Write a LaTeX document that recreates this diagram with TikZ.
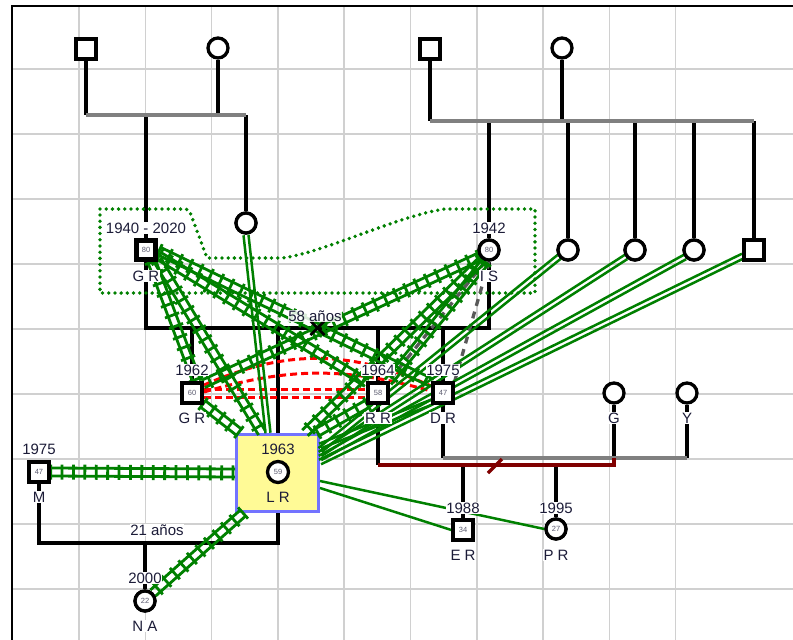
\documentclass[tikz,border=0pt]{standalone}
\usepackage{fontspec}
\setmainfont{Liberation Sans}
\usetikzlibrary{calc,decorations.markings}

\definecolor{gline}{RGB}{0,128,0}
\definecolor{gridc}{RGB}{208,208,208}
\definecolor{famgray}{RGB}{128,128,128}
\definecolor{txt}{RGB}{28,28,56}
\definecolor{agec}{RGB}{90,90,110}
\definecolor{boxfill}{RGB}{255,250,150}
\definecolor{boxedge}{RGB}{115,115,255}
\definecolor{sepred}{RGB}{128,0,0}

\newcommand\lblfont{\fontsize{15}{17}\selectfont}
\newcommand\agefont{\fontsize{7.5}{8}\selectfont}

% hostile/close bond: two rails with cross ties
\newcommand\hatchlink[2]{%
  \draw[rail] ($(#1)!4pt!90:(#2)$) -- ($(#2)!4pt!-90:(#1)$);
  \draw[rail] ($(#1)!4pt!-90:(#2)$) -- ($(#2)!4pt!90:(#1)$);
  \path[railticks] (#1) -- (#2);}
% close bond: two parallel lines
\newcommand\duallink[2]{%
  \draw[twin] ($(#1)!2.5pt!90:(#2)$) -- ($(#2)!2.5pt!-90:(#1)$);
  \draw[twin] ($(#1)!2.5pt!-90:(#2)$) -- ($(#2)!2.5pt!90:(#1)$);}

\tikzset{
  kin/.style={draw=black, line width=3.3pt},
  famline/.style={draw=famgray, line width=3.3pt},
  sepline/.style={draw=sepred, line width=3.3pt},
  rail/.style={draw=gline, line width=2.8pt},
  railticks/.style={postaction={decorate, decoration={markings,
      mark=between positions 0 and 1 step 11.4pt with
      {\draw[gline, line width=2.8pt] (0pt,-7.5pt) -- (0pt,7.5pt);}}}},
  twin/.style={draw=gline, line width=2.5pt},
  solo/.style={draw=gline, line width=2.5pt},
  conflict/.style={draw=red, line width=3pt, dash pattern=on 7pt off 4pt},
  distant/.style={draw=black!65, line width=3.3pt, dash pattern=on 7pt off 6pt},
  grouping/.style={draw=gline, line width=3.8pt, line cap=round, dash pattern=on 0pt off 6.2pt},
  gridline/.style={draw=gridc, line width=1.5pt},
  male/.style={rectangle, draw=black, line width=3.3pt, fill=white, minimum size=20pt, inner sep=0pt, font=\agefont, text=agec},
  female/.style={circle, draw=black, line width=3.3pt, fill=white, minimum size=20pt, inner sep=0pt, font=\agefont, text=agec},
  lbl/.style={fill=white, inner sep=0.8pt, text=txt, font=\lblfont},
}

\begin{document}
\begin{tikzpicture}[x=1pt,y=-1pt]
\useasboundingbox (0,0) rectangle (793,640);
\fill[white] (0,0) rectangle (793,640);

% grid
\foreach \i in {1,...,10} \draw[gridline] ({12.7+66.3*\i},6) -- ({12.7+66.3*\i},640);
\foreach \j in {1,...,9} \draw[gridline] (12,{4+65*\j}) -- (793,{4+65*\j});
\draw[black, line width=2.4pt] (12,640) -- (12,6) -- (793,6);

% people (placed first so connectors can refer to them)
\node[male]   (gpa1) at (86,49) {};
\node[female] (gma1) at (218,48) {};
\node[male]   (gpa2) at (430,49) {};
\node[female] (gma2) at (562,48) {};
\node[male, line width=4.8pt, minimum size=19pt] (gra) at (146,250) {80};
\node[female] (hna) at (246,223) {};
\node[female] (isn) at (489,250) {80};
\node[female] (s1) at (568,250) {};
\node[female] (s2) at (635,250) {};
\node[female] (s3) at (694,250) {};
\node[male]   (s4) at (754,250) {};
\node[male]   (gr62) at (192,393) {60};
\node[draw=boxedge, fill=boxfill, line width=3pt, minimum width=82pt, minimum height=77pt, inner sep=0pt] (lrbox) at (277.5,473) {};
\node[male]   (rr) at (378,393) {58};
\node[male]   (dr) at (443,393) {47};
\node[female] (gg) at (614,393) {};
\node[female] (yy) at (687,393) {};
\node[male]   (mm) at (39,472) {47};
\node[female] (na) at (145,601) {22};
\node[male]   (er) at (463,530) {34};
\node[female] (pr) at (556,529) {27};

% family lines
\coordinate (f1l) at (86,115);  \coordinate (f1r) at (246,115);
\coordinate (f2l) at (430,121); \coordinate (f2r) at (754,121);
\coordinate (m1l) at (146,328); \coordinate (m1r) at (489,328);
\coordinate (m2l) at (39,543);  \coordinate (m2r) at (278,543);
\coordinate (m3l) at (443,458); \coordinate (m3r) at (687,458);
\coordinate (m4l) at (378,465); \coordinate (m4r) at (614,465);

\draw[kin] (gpa1) -- (gpa1 |- f1l);
\draw[kin] (gma1) -- (gma1 |- f1l);
\draw[kin] (gra |- f1l) -- (gra);
\draw[kin] (hna |- f1l) -- (hna);
\draw[famline] (f1l) -- (f1r);

\draw[kin] (gpa2) -- (gpa2 |- f2l);
\draw[kin] (gma2) -- (gma2 |- f2l);
\foreach \c in {isn,s1,s2,s3,s4} \draw[kin] (\c |- f2l) -- (\c);
\draw[famline] (f2l) -- (f2r);

\draw[kin] (gra) -- (m1l) -- (m1r) -- (isn);
\draw[kin] (gr62 |- m1l) -- (gr62);
\draw[kin] (m2r |- m1l) -- (m2r |- lrbox.north);
\draw[kin] (rr |- m1l) -- (rr);
\draw[kin] (dr |- m1l) -- (dr);

\draw[kin] (mm) -- (m2l) -- (m2r) -- (m2r |- lrbox.south);
\draw[kin] (na |- m2l) -- (na);

\draw[kin] (dr) -- (m3l);
\draw[kin] (gg) -- (gg |- m3l);
\draw[kin] (yy) -- (yy |- m3l);
\draw[famline] (m3l) -- (m3r);

\draw[kin] (rr) -- (m4l);
\draw[kin] (er |- m4l) -- (er);
\draw[kin] (pr |- m4l) -- (pr);
\draw[sepline] (m4l) -- (m4r) -- (m4r |- m3l);
\draw[sepline] (488,473) -- (502,459);

% grouping outline
\draw[grouping] (100,209) -- (186,209) -- (190,212) -- (207,258) -- (282,258)
  .. controls (320,254) and (400,215) .. (445,209) -- (535,209) -- (535,293) -- (100,293) -- cycle;

% connector ends
\coordinate (gaA) at (152,262); \coordinate (gaB) at (158,261);
\coordinate (gaC) at (159,256); \coordinate (gaD) at (159,251);
\coordinate (isA) at (479,257); \coordinate (isB) at (481,261); \coordinate (isC) at (485,262);
\coordinate (g62t) at (197,382); \coordinate (g62u) at (203,384); \coordinate (g62b) at (203,404);
\coordinate (rrtl) at (367,383); \coordinate (rrtr) at (388,382); \coordinate (rrbl) at (367,404);
\coordinate (drtl) at (432,383); \coordinate (drbl) at (432,402);
\coordinate (lrA) at (262,433); \coordinate (lrB) at (240,433); \coordinate (lrC) at (305,433);
\coordinate (lrD) at (316,433); \coordinate (lrE) at (268,433); \coordinate (lrF) at (243,513);
\coordinate (lrR1) at (320,450); \coordinate (lrR2) at (320,454);
\coordinate (lrR3) at (320,458); \coordinate (lrR4) at (320,462);
\coordinate (lrR0) at (320,446); \coordinate (lrP) at (320,481); \coordinate (lrQ) at (320,488);
\coordinate (hnab) at (246,235); \coordinate (nat) at (153,593);
\coordinate (s1e) at (559,257); \coordinate (s2e) at (626,257);
\coordinate (s3e) at (685,257); \coordinate (s4e) at (743,256);

% conflict
\draw[conflict] (204,389) -- (366,389);
\draw[conflict] (204,397) -- (366,397);
\draw[conflict] (204,385) to[bend left=24] (431,386);
\draw[conflict] (204,392) to[bend left=16] (431,391);

% distance
\draw[distant] (isC) -- (rrtr);
\draw[distant] (isn.south) -- (dr.north east);

% close bonds
\duallink{hnab}{lrE}
\duallink{s1e}{lrR1}
\duallink{s2e}{lrR2}
\duallink{s3e}{lrR3}
\duallink{s4e}{lrR4}
\duallink{drbl}{lrR0}

% hostile bonds
\hatchlink{gaA}{g62t}
\hatchlink{gaB}{lrA}
\hatchlink{gaC}{rrtl}
\hatchlink{gaD}{drtl}
\hatchlink{isA}{g62u}
\hatchlink{isB}{lrC}
\hatchlink{isC}{rrtr}
\hatchlink{g62b}{lrB}
\hatchlink{rrbl}{lrD}
\hatchlink{mm.east}{lrbox.west}
\hatchlink{lrF}{nat}

% plain links
\draw[solo] (lrP) -- (pr.west);
\draw[solo] (lrQ) -- (er.west);

% divorce cross on the couple line
\coordinate (xm) at ($(m1l)!0.5!(m1r)$);
\draw[kin, line width=2.6pt] ($(xm)+(-7,-7)$) -- ($(xm)+(7,7)$) ($(xm)+(-7,7)$) -- ($(xm)+(7,-7)$);

% people drawn again on top of connectors
\node[male, line width=4.8pt, minimum size=19pt] at (gra) {80};
\node[female] at (hna) {};
\node[female] at (isn) {80};
\node[female] at (s1) {};
\node[female] at (s2) {};
\node[female] at (s3) {};
\node[male] at (s4) {};
\node[male] at (gr62) {60};
\node[male] at (rr) {58};
\node[male] at (dr) {47};
\node[male] at (mm) {47};
\node[female] at (na) {22};
\node[male] at (er) {34};
\node[female] at (pr) {27};
\node[female, minimum size=21pt] (lr) at (278,472) {59};

% labels
\node[lbl] (t1) at (146,228) {1940 - 2020};
\node[lbl] (t2) at (146,276) {G R};
\node[lbl] (t3) at (489,228) {1942};
\node[lbl] (t4) at (489,276) {I S};
\node[lbl] (t5) at (192,370) {1962};
\node[lbl] (t6) at (192,418) {G R};
\node[lbl, fill=none] (t7) at (278,449) {1963};
\node[lbl, fill=none] (t8) at (278,497) {L R};
\node[lbl] (t9) at (378,370) {1964};
\node[lbl] (t10) at (378,418) {R R};
\node[lbl] (t11) at (443,370) {1975};
\node[lbl] (t12) at (443,418) {D R};
\node[lbl] (t13) at (614,418) {G};
\node[lbl] (t14) at (687,418) {Y};
\node[lbl] (t15) at (39,449) {1975};
\node[lbl] (t16) at (39,497) {M};
\node[lbl] (t17) at (145,578) {2000};
\node[lbl] (t18) at (145,626) {N A};
\node[lbl] (t19) at (463,508) {1988};
\node[lbl] (t20) at (463,555) {E R};
\node[lbl] (t21) at (556,508) {1995};
\node[lbl] (t22) at (556,555) {P R};
\node[lbl, fill=white, fill opacity=0.85, text opacity=1] (t23) at (315,316) {58 años};
\node[lbl] (t24) at (157,530) {21 años};
\end{tikzpicture}
\end{document}
